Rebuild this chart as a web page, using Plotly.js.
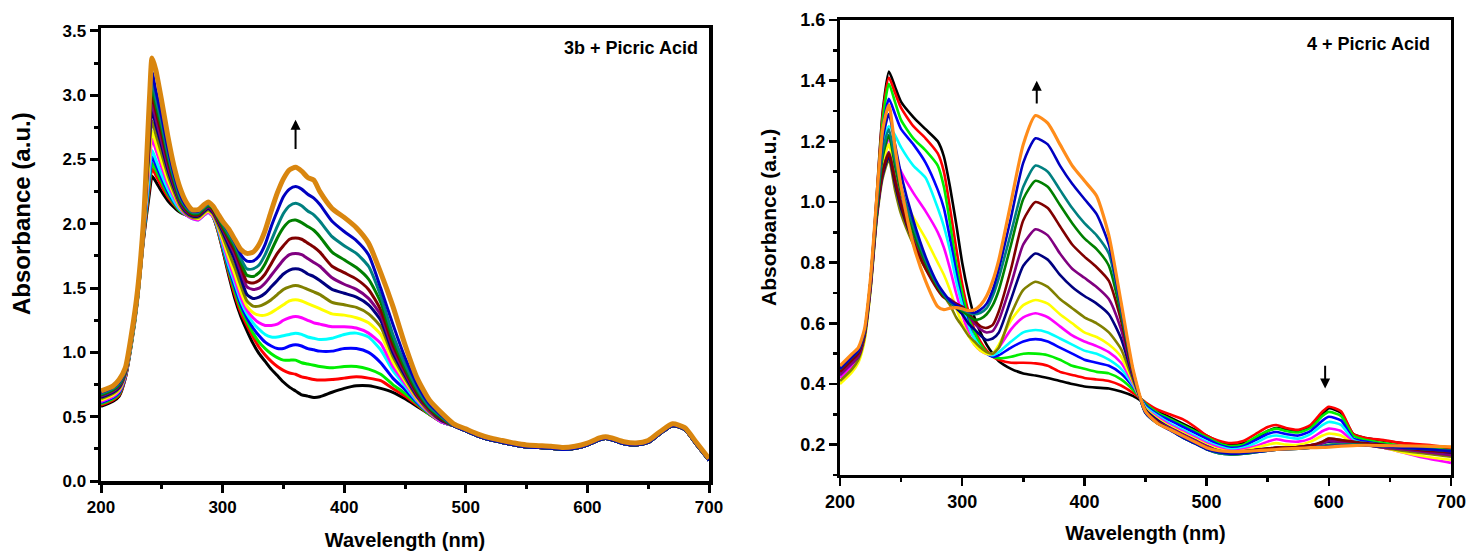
<!DOCTYPE html>
<html><head><meta charset="utf-8">
<script src="https://cdn.plot.ly/plotly-3.0.1.min.js"></script>
<style>html,body{margin:0;padding:0;background:#fff}#chart{width:1470px;height:553px}</style>
</head><body><div id="chart"></div>
<script>
// ---------- Left panel: 3b + Picric Acid ----------
const wlLeft = [200,210,215,220,225,230,235,240,242,245,250,255,260,265,270,275,280,285,288,292,296,300,305,310,315,320,325,330,335,340,345,350,355,360,365,370,375,380,390,400,410,420,430,440,450,460,470,480];
const wlLeftTail = [490,500,510,520,530,540,550,560,570,580,590,600,610,615,620,630,640,650,660,670,680,690,700];
const tailLeft = [0.43,0.39,0.35,0.32,0.30,0.28,0.265,0.26,0.255,0.245,0.255,0.28,0.32,0.33,0.32,0.29,0.28,0.30,0.37,0.43,0.40,0.28,0.16];
const tailLeftOrange = [0.445,0.405,0.365,0.335,0.315,0.295,0.28,0.275,0.27,0.26,0.27,0.295,0.335,0.345,0.335,0.305,0.295,0.315,0.385,0.445,0.415,0.295,0.175];

const left_black   = [0.58,0.62,0.66,0.80,1.06,1.40,1.88,2.25,2.37,2.33,2.25,2.18,2.13,2.09,2.07,2.06,2.06,2.09,2.11,2.06,1.95,1.80,1.60,1.42,1.28,1.17,1.07,0.99,0.93,0.87,0.82,0.77,0.73,0.70,0.67,0.66,0.65,0.655,0.69,0.72,0.74,0.74,0.72,0.69,0.64,0.58,0.52,0.46];
const left_red     = [0.59,0.63,0.67,0.80,1.07,1.41,1.89,2.30,2.43,2.38,2.29,2.21,2.15,2.10,2.07,2.05,2.05,2.08,2.10,2.06,1.95,1.81,1.62,1.45,1.31,1.21,1.12,1.04,0.98,0.93,0.89,0.86,0.84,0.83,0.81,0.80,0.79,0.785,0.79,0.80,0.81,0.80,0.78,0.72,0.66,0.59,0.52,0.46];
const left_green   = [0.60,0.64,0.68,0.81,1.07,1.41,1.90,2.34,2.47,2.42,2.32,2.23,2.16,2.10,2.07,2.05,2.05,2.08,2.10,2.06,1.96,1.82,1.64,1.48,1.34,1.24,1.15,1.08,1.03,0.99,0.96,0.94,0.94,0.94,0.92,0.91,0.90,0.89,0.88,0.89,0.89,0.87,0.83,0.75,0.68,0.60,0.52,0.46];
const left_blue    = [0.61,0.65,0.69,0.81,1.08,1.42,1.91,2.38,2.52,2.46,2.35,2.25,2.17,2.11,2.07,2.05,2.04,2.07,2.09,2.06,1.97,1.83,1.66,1.51,1.37,1.27,1.19,1.13,1.08,1.05,1.03,1.03,1.05,1.06,1.05,1.03,1.02,1.01,1.01,1.03,1.03,1.00,0.92,0.80,0.71,0.61,0.53,0.46];
const left_cyan    = [0.62,0.66,0.70,0.82,1.08,1.42,1.92,2.42,2.57,2.50,2.38,2.27,2.18,2.11,2.07,2.04,2.03,2.07,2.09,2.06,1.97,1.84,1.68,1.54,1.40,1.30,1.23,1.18,1.14,1.12,1.12,1.13,1.14,1.15,1.14,1.12,1.11,1.10,1.11,1.14,1.15,1.12,1.02,0.86,0.74,0.62,0.53,0.46];
const left_magenta = [0.62,0.66,0.70,0.82,1.09,1.43,1.93,2.50,2.66,2.58,2.44,2.31,2.21,2.12,2.07,2.04,2.03,2.07,2.09,2.06,1.98,1.86,1.71,1.57,1.43,1.33,1.27,1.23,1.21,1.21,1.22,1.25,1.27,1.28,1.27,1.25,1.23,1.22,1.20,1.20,1.19,1.15,1.07,0.89,0.76,0.63,0.53,0.46];
const left_yellow  = [0.63,0.67,0.71,0.83,1.09,1.43,1.94,2.55,2.72,2.63,2.48,2.34,2.23,2.13,2.08,2.05,2.04,2.08,2.10,2.07,1.99,1.88,1.74,1.61,1.47,1.36,1.31,1.29,1.29,1.31,1.34,1.37,1.40,1.41,1.40,1.38,1.36,1.34,1.30,1.29,1.27,1.23,1.14,0.93,0.78,0.64,0.54,0.47];
const left_olive   = [0.64,0.68,0.72,0.83,1.10,1.44,1.95,2.62,2.80,2.70,2.54,2.38,2.25,2.14,2.08,2.05,2.05,2.09,2.11,2.08,2.00,1.91,1.78,1.66,1.52,1.40,1.36,1.36,1.38,1.41,1.45,1.49,1.51,1.52,1.51,1.49,1.47,1.45,1.39,1.37,1.35,1.30,1.20,0.97,0.80,0.65,0.54,0.47];
const left_navy    = [0.65,0.69,0.73,0.84,1.10,1.44,1.96,2.68,2.88,2.77,2.60,2.42,2.28,2.16,2.09,2.06,2.06,2.10,2.12,2.09,2.02,1.94,1.83,1.72,1.58,1.45,1.42,1.43,1.46,1.51,1.56,1.61,1.64,1.65,1.64,1.61,1.59,1.56,1.49,1.46,1.43,1.37,1.25,1.00,0.82,0.66,0.55,0.47];
const left_purple  = [0.66,0.70,0.74,0.84,1.11,1.45,1.97,2.73,2.94,2.82,2.64,2.45,2.30,2.17,2.10,2.07,2.07,2.11,2.13,2.10,2.03,1.96,1.86,1.76,1.63,1.51,1.49,1.50,1.54,1.60,1.66,1.72,1.76,1.77,1.76,1.73,1.70,1.67,1.58,1.53,1.49,1.42,1.29,1.03,0.84,0.67,0.55,0.48];
const left_maroon  = [0.67,0.71,0.75,0.85,1.11,1.45,1.98,2.78,3.00,2.88,2.69,2.49,2.32,2.18,2.11,2.07,2.07,2.12,2.14,2.11,2.04,1.97,1.88,1.79,1.67,1.55,1.54,1.56,1.61,1.69,1.77,1.83,1.88,1.89,1.88,1.85,1.82,1.78,1.67,1.62,1.57,1.49,1.33,1.06,0.86,0.68,0.56,0.48];
const left_dkgreen = [0.67,0.71,0.75,0.85,1.12,1.46,1.99,2.83,3.06,2.93,2.74,2.52,2.34,2.19,2.12,2.08,2.08,2.12,2.14,2.12,2.05,1.98,1.90,1.82,1.70,1.60,1.59,1.62,1.69,1.79,1.89,1.97,2.02,2.03,2.01,1.98,1.95,1.90,1.78,1.72,1.66,1.57,1.39,1.10,0.88,0.70,0.57,0.49];
const left_teal    = [0.68,0.72,0.76,0.86,1.12,1.46,2.00,2.88,3.12,2.98,2.78,2.55,2.36,2.21,2.13,2.09,2.09,2.13,2.15,2.13,2.06,2.00,1.92,1.84,1.73,1.65,1.65,1.68,1.76,1.87,1.98,2.08,2.14,2.16,2.14,2.10,2.07,2.02,1.90,1.83,1.77,1.67,1.44,1.14,0.91,0.72,0.58,0.50];
const left_blue2   = [0.69,0.73,0.77,0.86,1.13,1.47,2.01,2.92,3.18,3.04,2.83,2.59,2.39,2.23,2.14,2.10,2.10,2.14,2.16,2.14,2.07,2.01,1.94,1.86,1.76,1.71,1.71,1.75,1.84,1.98,2.10,2.21,2.27,2.29,2.27,2.23,2.20,2.15,2.02,1.94,1.87,1.76,1.50,1.22,0.96,0.75,0.60,0.51];
const left_orange  = [0.70,0.74,0.79,0.88,1.14,1.48,2.03,3.00,3.29,3.20,2.95,2.68,2.45,2.28,2.17,2.11,2.11,2.15,2.17,2.14,2.08,2.02,1.96,1.88,1.80,1.77,1.78,1.84,1.95,2.10,2.24,2.35,2.42,2.44,2.41,2.36,2.34,2.25,2.12,2.05,1.97,1.85,1.62,1.36,1.06,0.80,0.63,0.53];

// ---------- Right panel: 4 + Picric Acid ----------
const wlRight = [200,210,215,220,225,230,235,240,245,250,260,270,280,285,290,295,300,305,310,315,320,325,330,340,350,360,370,380,390,400,410,420,430,440,450,460,470,480,490,500,510,520,530,540,550,557,565,575,585,595,600,610,620,630,645,660,680,700];

const right_black   = [0.44,0.48,0.50,0.56,0.74,1.02,1.30,1.43,1.38,1.33,1.28,1.24,1.20,1.15,1.05,0.93,0.80,0.70,0.62,0.57,0.53,0.50,0.475,0.45,0.435,0.428,0.42,0.41,0.40,0.392,0.388,0.385,0.375,0.36,0.335,0.31,0.29,0.27,0.25,0.23,0.21,0.20,0.205,0.22,0.245,0.255,0.25,0.245,0.26,0.30,0.32,0.305,0.235,0.222,0.213,0.205,0.195,0.185];
const right_red     = [0.44,0.48,0.50,0.56,0.74,1.01,1.29,1.41,1.36,1.31,1.25,1.21,1.16,1.10,0.98,0.85,0.73,0.64,0.58,0.54,0.51,0.49,0.48,0.47,0.47,0.468,0.46,0.44,0.43,0.42,0.415,0.41,0.395,0.37,0.34,0.315,0.30,0.285,0.26,0.23,0.213,0.205,0.212,0.235,0.258,0.265,0.255,0.249,0.265,0.31,0.325,0.31,0.235,0.222,0.215,0.205,0.20,0.19];
const right_green   = [0.43,0.47,0.49,0.56,0.73,1.00,1.27,1.39,1.33,1.27,1.21,1.17,1.12,1.05,0.93,0.80,0.70,0.62,0.57,0.53,0.505,0.49,0.485,0.49,0.50,0.50,0.495,0.48,0.46,0.45,0.44,0.435,0.415,0.38,0.335,0.305,0.285,0.265,0.245,0.225,0.205,0.195,0.20,0.225,0.245,0.253,0.245,0.24,0.255,0.295,0.308,0.295,0.23,0.215,0.205,0.195,0.19,0.18];
const right_blue    = [0.44,0.48,0.50,0.56,0.73,0.99,1.24,1.34,1.29,1.24,1.19,1.13,1.04,0.98,0.88,0.77,0.67,0.60,0.55,0.52,0.50,0.49,0.495,0.52,0.54,0.548,0.54,0.52,0.50,0.48,0.47,0.46,0.435,0.39,0.33,0.30,0.28,0.26,0.24,0.22,0.20,0.19,0.195,0.215,0.235,0.242,0.235,0.23,0.245,0.28,0.292,0.28,0.22,0.21,0.20,0.195,0.185,0.18];
const right_cyan    = [0.43,0.47,0.49,0.55,0.72,0.97,1.18,1.25,1.22,1.18,1.12,1.08,0.98,0.92,0.84,0.74,0.66,0.59,0.55,0.52,0.50,0.495,0.505,0.54,0.57,0.578,0.57,0.55,0.53,0.51,0.50,0.48,0.45,0.395,0.325,0.295,0.27,0.25,0.23,0.21,0.195,0.185,0.19,0.205,0.225,0.23,0.225,0.22,0.235,0.265,0.275,0.265,0.215,0.205,0.198,0.19,0.18,0.17];
const right_magenta = [0.42,0.46,0.48,0.55,0.72,0.96,1.14,1.21,1.15,1.10,1.03,0.97,0.90,0.85,0.78,0.70,0.63,0.57,0.53,0.51,0.50,0.50,0.52,0.58,0.62,0.633,0.62,0.59,0.56,0.54,0.525,0.505,0.47,0.40,0.32,0.29,0.265,0.245,0.225,0.205,0.19,0.18,0.185,0.195,0.21,0.218,0.212,0.21,0.22,0.245,0.253,0.245,0.21,0.20,0.19,0.175,0.155,0.14];
const right_yellow  = [0.40,0.44,0.47,0.54,0.71,0.95,1.12,1.19,1.10,1.03,0.95,0.88,0.80,0.76,0.71,0.65,0.60,0.56,0.53,0.51,0.50,0.50,0.53,0.61,0.66,0.677,0.665,0.63,0.60,0.57,0.555,0.53,0.49,0.405,0.32,0.285,0.26,0.24,0.22,0.20,0.185,0.178,0.18,0.19,0.20,0.205,0.20,0.20,0.21,0.23,0.237,0.23,0.205,0.198,0.19,0.175,0.16,0.15];
const right_olive   = [0.41,0.45,0.48,0.55,0.71,0.94,1.08,1.14,1.04,0.96,0.86,0.78,0.72,0.69,0.66,0.62,0.59,0.56,0.54,0.52,0.505,0.50,0.52,0.63,0.71,0.737,0.72,0.68,0.65,0.62,0.60,0.57,0.515,0.41,0.315,0.28,0.255,0.235,0.215,0.195,0.178,0.168,0.17,0.178,0.185,0.19,0.19,0.19,0.195,0.21,0.22,0.215,0.205,0.20,0.19,0.18,0.17,0.16];
const right_navy    = [0.43,0.47,0.49,0.56,0.72,0.95,1.09,1.15,1.06,0.98,0.87,0.79,0.72,0.69,0.67,0.65,0.63,0.60,0.58,0.56,0.545,0.55,0.57,0.68,0.79,0.83,0.81,0.76,0.72,0.69,0.665,0.63,0.55,0.42,0.315,0.28,0.255,0.235,0.215,0.195,0.18,0.175,0.178,0.183,0.188,0.19,0.19,0.192,0.198,0.205,0.21,0.21,0.205,0.20,0.195,0.19,0.18,0.17];
const right_purple  = [0.43,0.47,0.49,0.56,0.72,0.95,1.10,1.165,1.08,1.00,0.88,0.79,0.72,0.69,0.68,0.665,0.65,0.625,0.60,0.58,0.57,0.575,0.61,0.73,0.86,0.91,0.89,0.83,0.78,0.75,0.72,0.68,0.58,0.425,0.31,0.275,0.255,0.235,0.215,0.195,0.18,0.175,0.178,0.182,0.186,0.19,0.19,0.192,0.198,0.205,0.212,0.21,0.205,0.20,0.19,0.185,0.175,0.165];
const right_maroon  = [0.44,0.48,0.50,0.56,0.73,0.96,1.10,1.16,1.07,0.99,0.87,0.78,0.71,0.685,0.675,0.665,0.655,0.635,0.61,0.59,0.585,0.595,0.64,0.78,0.94,1.00,0.98,0.92,0.86,0.82,0.785,0.74,0.61,0.43,0.31,0.275,0.25,0.23,0.21,0.19,0.178,0.175,0.178,0.182,0.187,0.19,0.19,0.192,0.198,0.21,0.22,0.215,0.21,0.205,0.20,0.19,0.18,0.175];
const right_dkgreen = [0.45,0.49,0.51,0.57,0.74,0.97,1.15,1.22,1.12,1.03,0.90,0.80,0.72,0.69,0.67,0.655,0.64,0.625,0.612,0.615,0.63,0.66,0.71,0.86,1.01,1.07,1.05,0.99,0.93,0.88,0.845,0.79,0.63,0.435,0.305,0.27,0.25,0.225,0.205,0.185,0.172,0.168,0.17,0.175,0.18,0.183,0.185,0.187,0.19,0.195,0.20,0.20,0.20,0.198,0.195,0.19,0.185,0.18];
const right_teal    = [0.45,0.49,0.51,0.57,0.74,0.98,1.17,1.24,1.14,1.05,0.92,0.81,0.725,0.695,0.67,0.655,0.645,0.635,0.63,0.635,0.65,0.69,0.75,0.90,1.05,1.12,1.10,1.04,0.98,0.93,0.89,0.83,0.645,0.44,0.305,0.27,0.25,0.225,0.205,0.185,0.172,0.168,0.17,0.175,0.18,0.183,0.185,0.187,0.19,0.195,0.198,0.20,0.20,0.198,0.195,0.19,0.185,0.18];
const right_blue2   = [0.45,0.49,0.51,0.57,0.74,1.00,1.21,1.29,1.19,1.09,0.94,0.82,0.73,0.70,0.675,0.66,0.65,0.64,0.635,0.645,0.665,0.71,0.78,0.95,1.13,1.21,1.19,1.12,1.06,1.01,0.96,0.86,0.655,0.44,0.305,0.27,0.248,0.225,0.205,0.185,0.175,0.17,0.172,0.176,0.18,0.183,0.185,0.187,0.19,0.193,0.195,0.197,0.198,0.197,0.195,0.19,0.185,0.178];
const right_orange  = [0.46,0.50,0.52,0.58,0.75,1.01,1.24,1.32,1.18,1.05,0.86,0.74,0.655,0.645,0.65,0.652,0.648,0.642,0.645,0.66,0.69,0.74,0.81,1.00,1.19,1.285,1.26,1.19,1.12,1.07,1.02,0.89,0.67,0.445,0.31,0.27,0.25,0.23,0.21,0.19,0.18,0.177,0.178,0.18,0.182,0.184,0.186,0.188,0.19,0.191,0.192,0.195,0.197,0.198,0.197,0.196,0.195,0.193];

const curveColors = ['#000000','#ff0000','#00ee00','#0000ff','#00ffff','#ff00ff','#ffff00','#808000','#000080','#800080','#800000','#008000','#008080','#0000c0','#d9860f'];
const leftCurves = [left_black,left_red,left_green,left_blue,left_cyan,left_magenta,left_yellow,left_olive,left_navy,left_purple,left_maroon,left_dkgreen,left_teal,left_blue2,left_orange];
const rightCurves = [right_black,right_red,right_green,right_blue,right_cyan,right_magenta,right_yellow,right_olive,right_navy,right_purple,right_maroon,right_dkgreen,right_teal,right_blue2,right_orange];

const traces = [];
const xLeftFull = wlLeft.concat(wlLeftTail);
leftCurves.forEach((c, i) => {
  const last = i === leftCurves.length - 1;
  traces.push({x: xLeftFull, y: c.concat(last ? tailLeftOrange : tailLeft), type: 'scatter', mode: 'lines', xaxis: 'x', yaxis: 'y',
    line: {color: curveColors[i], width: last ? 5 : 3, shape: 'spline', smoothing: 0.6}, hoverinfo: 'skip'});
});
rightCurves.forEach((c, i) => {
  const last = i === rightCurves.length - 1;
  traces.push({x: wlRight, y: c, type: 'scatter', mode: 'lines', xaxis: 'x2', yaxis: 'y2',
    line: {color: last ? '#ff8c1a' : curveColors[i], width: last ? 3.2 : 2.6, shape: 'spline', smoothing: 0.6}, hoverinfo: 'skip'});
});

const FONT = 'Liberation Sans, Arial, sans-serif';
const tickF = (s) => ({family: FONT, size: s, color: '#000', weight: 'bold'});
function axis(o) {
  return Object.assign({showgrid: false, zeroline: false, showline: true, linecolor: '#000', mirror: true,
    ticks: 'outside', tickcolor: '#000', ticklen: 8}, o);
}

const layout = {
  width: 1470, height: 553, margin: {l: 0, r: 0, t: 0, b: 0},
  paper_bgcolor: '#fff', plot_bgcolor: '#fff', showlegend: false,
  xaxis: axis({domain: [101/1470, 709/1470], range: [200, 700], dtick: 100, tick0: 200, anchor: 'y',
    linewidth: 3.5, tickwidth: 3, tickfont: tickF(17),
    minor: {dtick: 50, ticks: 'outside', ticklen: 4, tickwidth: 3, tickcolor: '#000'},
    title: {text: 'Wavelength (nm)', font: {family: FONT, size: 20, weight: 'bold', color: '#000'}, standoff: 18}}),
  yaxis: axis({domain: [1 - 481/553, 1 - 28/553], range: [0, 3.523], dtick: 0.5, tick0: 0, tickformat: '.1f', anchor: 'x',
    linewidth: 3.5, tickwidth: 3, tickfont: tickF(17),
    minor: {dtick: 0.25, ticks: 'outside', ticklen: 4, tickwidth: 3, tickcolor: '#000'}}),
  xaxis2: axis({domain: [840/1470, 1451/1470], range: [200, 700], dtick: 100, tick0: 200, anchor: 'y2',
    linewidth: 3, tickwidth: 2.5, tickfont: tickF(18),
    minor: {dtick: 50, ticks: 'outside', ticklen: 4, tickwidth: 2.5, tickcolor: '#000'},
    title: {text: 'Wavelength (nm)', font: {family: FONT, size: 20, weight: 'bold', color: '#000'}, standoff: 16}}),
  yaxis2: axis({domain: [1 - 475/553, 1 - 20/553], range: [0.1, 1.6], dtick: 0.2, tick0: 0, tickformat: '.1f', anchor: 'x2',
    linewidth: 3, tickwidth: 2.5, tickfont: tickF(18),
    minor: {dtick: 0.1, ticks: 'outside', ticklen: 4, tickwidth: 2.5, tickcolor: '#000'}}),
  annotations: [
    {text: 'Absorbance (a.u.)', xref: 'paper', yref: 'paper', x: 22/1470, y: 1 - 214/553, textangle: -90,
      xanchor: 'center', yanchor: 'middle', showarrow: false, font: {family: FONT, size: 24, weight: 'bold', color: '#000'}},
    {text: 'Absorbance (a.u.)', xref: 'paper', yref: 'paper', x: 768/1470, y: 1 - 218/553, textangle: -90,
      xanchor: 'center', yanchor: 'middle', showarrow: false, font: {family: FONT, size: 21, weight: 'bold', color: '#000'}},
    {text: '3b + Picric Acid', xref: 'paper', yref: 'paper', x: 700/1470, y: 1 - 48/553, xanchor: 'right', yanchor: 'middle',
      showarrow: false, font: {family: FONT, size: 18, weight: 'bold', color: '#000'}},
    {text: '4 + Picric Acid', xref: 'paper', yref: 'paper', x: 1432/1470, y: 1 - 44/553, xanchor: 'right', yanchor: 'middle',
      showarrow: false, font: {family: FONT, size: 18, weight: 'bold', color: '#000'}},
    {text: '', xref: 'x', yref: 'y', x: 360, y: 2.81, axref: 'x', ayref: 'y', ax: 360, ay: 2.57,
      showarrow: true, arrowhead: 2, arrowsize: 1, arrowwidth: 2, arrowcolor: '#000'},
    {text: '', xref: 'x2', yref: 'y2', x: 361, y: 1.40, axref: 'x2', ayref: 'y2', ax: 361, ay: 1.32,
      showarrow: true, arrowhead: 2, arrowsize: 1, arrowwidth: 2, arrowcolor: '#000'},
    {text: '', xref: 'x2', yref: 'y2', x: 597, y: 0.385, axref: 'x2', ayref: 'y2', ax: 597, ay: 0.465,
      showarrow: true, arrowhead: 2, arrowsize: 1, arrowwidth: 2, arrowcolor: '#000'}
  ]
};

Plotly.newPlot('chart', traces, layout, {staticPlot: true, displayModeBar: false});
</script>
</body></html>
